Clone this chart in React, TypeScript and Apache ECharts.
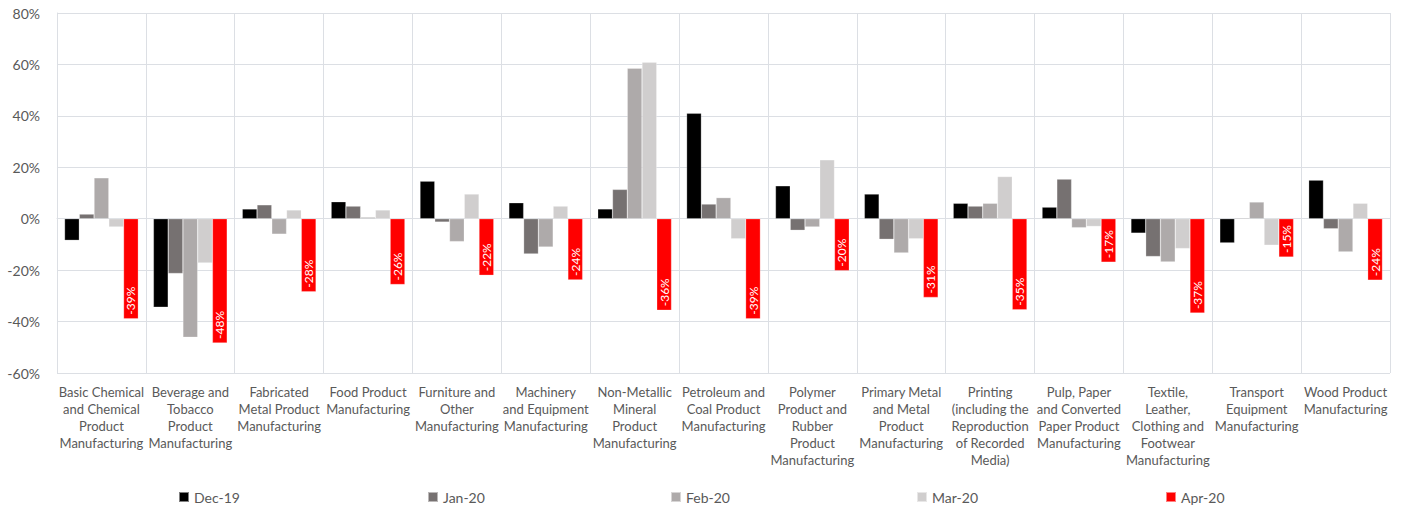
import React, { useEffect, useRef } from "react";
import * as echarts from "echarts";

const categories: string[] = [
  "Basic Chemical\nand Chemical\nProduct\nManufacturing",
  "Beverage and\nTobacco\nProduct\nManufacturing",
  "Fabricated\nMetal Product\nManufacturing",
  "Food Product\nManufacturing",
  "Furniture and\nOther\nManufacturing",
  "Machinery\nand Equipment\nManufacturing",
  "Non-Metallic\nMineral\nProduct\nManufacturing",
  "Petroleum and\nCoal Product\nManufacturing",
  "Polymer\nProduct and\nRubber\nProduct\nManufacturing",
  "Primary Metal\nand Metal\nProduct\nManufacturing",
  "Printing\n(including the\nReproduction\nof Recorded\nMedia)",
  "Pulp, Paper\nand Converted\nPaper Product\nManufacturing",
  "Textile,\nLeather,\nClothing and\nFootwear\nManufacturing",
  "Transport\nEquipment\nManufacturing",
  "Wood Product\nManufacturing",
];

const seriesNames: string[] = ["Dec-19", "Jan-20", "Feb-20", "Mar-20", "Apr-20"];

const dec19: number[] = [-8.4, -34.4, 3.8, 6.6, 14.6, 6.2, 3.8, 41.0, 12.8, 9.6, 6.0, 4.5, -5.6, -9.4, 15.0];
const jan20: number[] = [1.8, -21.3, 5.4, 4.9, -1.3, -13.7, 11.4, 5.7, -4.5, -8.0, 4.9, 15.4, -14.7, 0.3, -3.9];
const feb20: number[] = [15.9, -46.1, -6.0, 0.6, -8.9, -11.0, 58.5, 8.2, -3.2, -13.3, 6.0, -3.5, -16.8, 6.5, -12.9];
const mar20: number[] = [-3.2, -17.2, 3.4, 3.4, 9.6, 4.9, 60.8, -7.8, 22.9, -7.8, 16.4, -3.0, -11.6, -10.3, 6.0];
const apr20: number[] = [-38.9, -48.3, -28.4, -25.6, -22.0, -23.8, -35.6, -38.9, -20.2, -30.6, -35.4, -16.9, -36.7, -14.9, -23.9];

const yTicks = { min: -60, max: 80, interval: 20 };

const colors: string[] = ["#000000", "#767171", "#AEAAAA", "#D0CECE", "#FF0000"];

const FONT = "Lato, 'Open Sans', sans-serif";
const TEXT = "#595959";
const GRID = "#DCDFE4";

export default function App() {
  const ref = useRef<HTMLDivElement>(null);
  useEffect(() => {
    if (!ref.current) return;
    const chart = echarts.init(ref.current, undefined, { renderer: "svg" });
    const data = [dec19, jan20, feb20, mar20, apr20];
    const legendLefts = [178, 427, 670, 916, 1165];
    const option: any = {
      animation: false,
      textStyle: { fontFamily: FONT },
      grid: { left: 57, right: 16, top: 13, bottom: 139, containLabel: false },
      legend: seriesNames.map((n, i) => ({
        data: [n],
        left: legendLefts[i],
        top: 490,
        padding: 0,
        itemWidth: 10,
        itemHeight: 10,
        itemGap: 0,
        icon: "rect",
        textStyle: { color: TEXT, fontSize: 14, fontFamily: FONT },
      })),
      xAxis: {
        type: "category",
        data: categories,
        axisLine: { show: true, lineStyle: { color: GRID } },
        axisTick: { show: false },
        splitLine: { show: true, lineStyle: { color: GRID, width: 1 } },
        axisLabel: {
          interval: 0,
          color: TEXT,
          fontSize: 13,
          lineHeight: 17,
          margin: 10,
          fontFamily: FONT,
        },
      },
      yAxis: {
        type: "value",
        min: yTicks.min,
        max: yTicks.max,
        interval: yTicks.interval,
        axisLine: { show: true, lineStyle: { color: GRID } },
        axisTick: { show: false },
        splitLine: { show: true, lineStyle: { color: GRID, width: 1 } },
        axisLabel: {
          formatter: "{value}%",
          color: TEXT,
          fontSize: 14,
          margin: 17,
          fontFamily: FONT,
        },
      },
      series: seriesNames.map((n, i) => ({
        name: n,
        type: "bar",
        data: data[i],
        barGap: "0%",
        barCategoryGap: "17%",
        itemStyle: { color: colors[i], borderColor: "rgba(255,255,255,0.5)", borderWidth: 0.5 },
        label:
          i === 4
            ? {
                show: true,
                position: "insideBottom",
                rotate: 90,
                align: "left",
                verticalAlign: "middle",
                distance: 4,
                color: "#FFFFFF",
                fontSize: 12,
                fontFamily: FONT,
                formatter: (p: any) => Math.round(p.value) + "%",
              }
            : { show: false },
      })),
    };
    chart.setOption(option);
    return () => chart.dispose();
  }, []);
  return (
    <div
      ref={ref}
      style={{ position: "absolute", left: 0, top: 0, width: 1406, height: 512, background: "#fff" }}
    />
  );
}
